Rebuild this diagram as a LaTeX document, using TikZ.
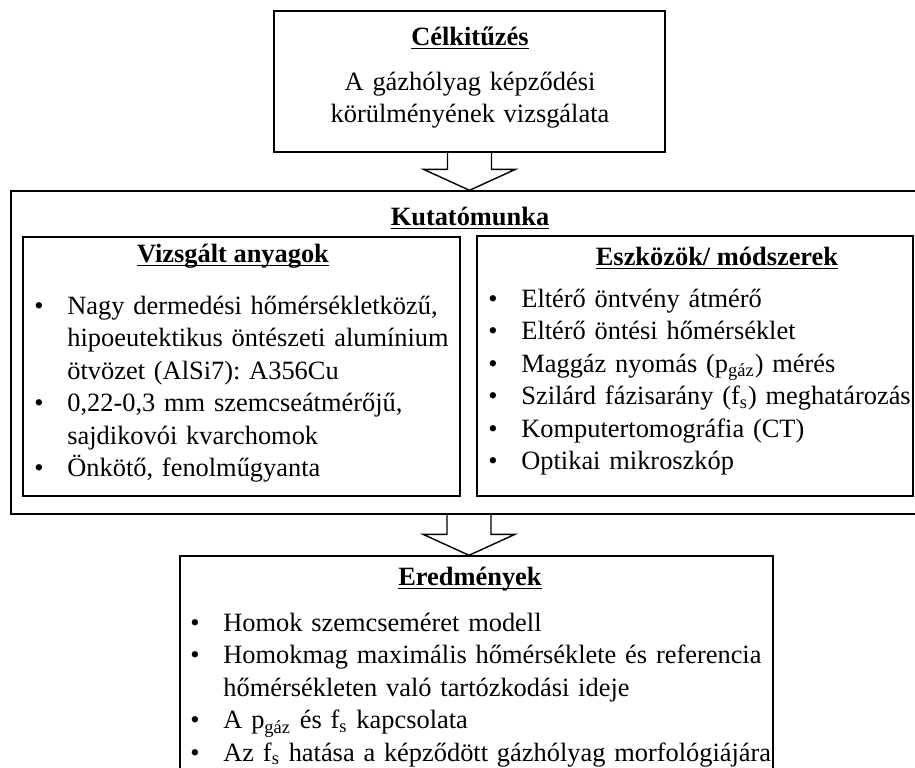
\documentclass[tikz,border=0pt]{standalone}
\usepackage{fontspec}
\setmainfont{Liberation Serif}
\usetikzlibrary{calc,fit}
\frenchspacing

% underline at a fixed depth below the baseline
\newcommand{\ultext}[1]{\setbox0=\hbox{#1}\rlap{\rule[-2.2pt]{\wd0}{0.8pt}}\box0}
% bullet and hanging indent of the lists
\newcommand{\itm}{\makebox[16.5pt][l]{\textbullet}}
\newcommand{\itmskip}{\hspace*{16.5pt}}

\begin{document}
\begin{tikzpicture}[x=0.5pt, y=-0.5pt,
  panel/.style={draw, line width=0.7pt, inner sep=0pt},
  txt/.style={inner sep=0pt, font=\fontsize{13.2}{16.25}\selectfont},
  boxtitle/.style={txt, anchor=base, font=\fontsize{13.2}{16.25}\selectfont\bfseries},
  itemlist/.style={txt, anchor=base west, text width=300pt, align=left},
  blockarrow/.style={draw, line width=0.7pt, line join=miter}]

\useasboundingbox (0,0) rectangle (915,767);
\clip (0,0) rectangle (915,767);

% Frames of the boxes
\node[panel, fit={(274,11) (665,152)}] (goal) {};
\node[panel, fit={(11,191) (927,514)}] (research) {};
\node[panel, fit={(23,237) (460,496)}] (materials) {};
\node[panel, fit={(477,236) (913,496)}] (methods) {};
\node[panel, fit={(180,556) (773,780)}] (results) {};

% Block arrows between the boxes
\coordinate (tipA) at (goal.south |- research.north);
\coordinate (tipB) at (research.south |- results.north);
\draw[blockarrow] ($(goal.south)+(-22,0)$) -- ($(tipA)+(-22,-21)$) -- ($(tipA)+(-46,-21)$) -- (tipA)
  -- ($(tipA)+(46,-21)$) -- ($(tipA)+(22,-21)$) -- ($(goal.south)+(22,0)$);
\draw[blockarrow] ($(research.south)+(-22,0)$) -- ($(tipB)+(-22,-21)$) -- ($(tipB)+(-46,-21)$) -- (tipB)
  -- ($(tipB)+(46,-21)$) -- ($(tipB)+(22,-21)$) -- ($(research.south)+(22,0)$);

% Goal
\node[boxtitle] (goalhead) at (470,45) {\ultext{Célkitűzés}};
\node[txt, anchor=base, text width=200pt, align=center] (goaltext) at (470,90)
  {A gázhólyag képződési\\körülményének vizsgálata};

% Research work
\node[boxtitle] (researchhead) at (470,225) {\ultext{Kutatómunka}};
\node[boxtitle] (materialshead) at (233,262) {\ultext{Vizsgált anyagok}};
\node[boxtitle] (methodshead) at (717,265) {\ultext{Eszközök/ módszerek}};

\node[itemlist] (materialslist) at (34,314) {\itm Nagy dermedési hőmérsékletközű,\\
  \itmskip hipoeutektikus öntészeti alumínium\\
  \itmskip ötvözet (AlSi7): A356Cu\\
  \itm 0,22-0,3 mm szemcseátmérőjű,\\
  \itmskip sajdikovói kvarchomok\\
  \itm Önkötő, fenolműgyanta};

\node[itemlist] (methodslist) at (488,307) {\itm Eltérő öntvény átmérő\\
  \itm Eltérő öntési hőmérséklet\\
  \itm Maggáz nyomás (p\textsubscript{gáz}) mérés\\
  \itm Szilárd fázisarány (f\textsubscript{s}) meghatározás\\
  \itm Komputertomográfia (CT)\\
  \itm Optikai mikroszkóp};

% Results
\node[boxtitle] (resultshead) at (470,585) {\ultext{Eredmények}};
\node[itemlist] (resultslist) at (190,631) {\itm Homok szemcseméret modell\\
  \itm Homokmag maximális hőmérséklete és referencia\\
  \itmskip hőmérsékleten való tartózkodási ideje\\
  \itm A p\textsubscript{gáz} és f\textsubscript{s} kapcsolata\\
  \itm Az f\textsubscript{s} hatása a képződött gázhólyag morfológiájára};

\end{tikzpicture}
\end{document}
